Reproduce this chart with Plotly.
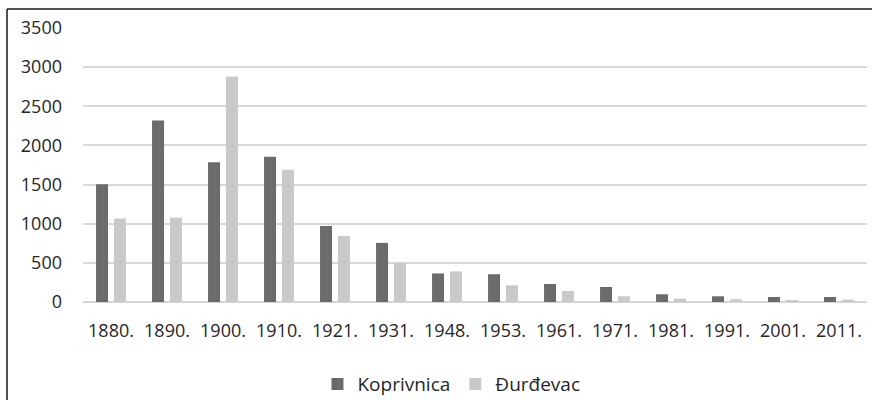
import plotly.graph_objects as go

years = ["1880.", "1890.", "1900.", "1910.", "1921.", "1931.", "1948.",
         "1953.", "1961.", "1971.", "1981.", "1991.", "2001.", "2011."]
koprivnica = [1505, 2320, 1785, 1855, 970, 755, 365, 355, 230, 192, 99, 73, 64, 64]
durdevac = [1068, 1075, 2880, 1688, 842, 500, 390, 214, 141, 73, 43, 35, 26, 30]
series_names = ["Koprivnica", "Đurđevac"]
y_ticks = [0, 500, 1000, 1500, 2000, 2500, 3000, 3500]

FONT = "Open Sans"
TXT = "#262626"

fig = go.Figure()
fig.add_bar(x=years, y=koprivnica, name=series_names[0], marker_color="#6b6b6b",
            marker_line_width=0)
fig.add_bar(x=years, y=durdevac, name=series_names[1], marker_color="#c9c9c9",
            marker_line_width=0)

fig.update_layout(
    width=872, height=400,
    margin=dict(l=83, r=5, t=28, b=98, autoexpand=False),
    paper_bgcolor="white", plot_bgcolor="white",
    barmode="group", bargap=0.36, bargroupgap=0.33,
    font=dict(family=FONT, size=18, color=TXT),
    showlegend=True,
    legend=dict(orientation="h", x=0.47, xanchor="center", y=-0.3, yanchor="middle",
                font=dict(family=FONT, size=19, color=TXT), itemwidth=30,
                traceorder="normal", bgcolor="rgba(0,0,0,0)"),
    xaxis=dict(type="category", showgrid=False, showline=False, zeroline=False,
               tickfont=dict(family=FONT, size=18, color=TXT), ticklabelstandoff=16,
               fixedrange=True),
    yaxis=dict(range=[0, 3500], tickvals=y_ticks, showgrid=True, gridcolor="#d9d9d9",
               gridwidth=2, zeroline=True, zerolinecolor="#d4d4d4", zerolinewidth=2,
               showline=False, tickfont=dict(family=FONT, size=18, color=TXT),
               ticklabelstandoff=20, fixedrange=True),
    shapes=[
        dict(type="line", xref="paper", yref="paper", x0=-0.0969, x1=1.01, y0=1.0693, y1=1.0693,
             line=dict(color="#1a1a1a", width=1.5)),
        dict(type="line", xref="paper", yref="paper", x0=-0.0969, x1=-0.0969, y0=1.0693, y1=-0.36,
             line=dict(color="#1a1a1a", width=1.5)),
    ],
)

fig.write_html("out.html", config={"displayModeBar": False},
               post_script="document.body.style.margin='0';")
